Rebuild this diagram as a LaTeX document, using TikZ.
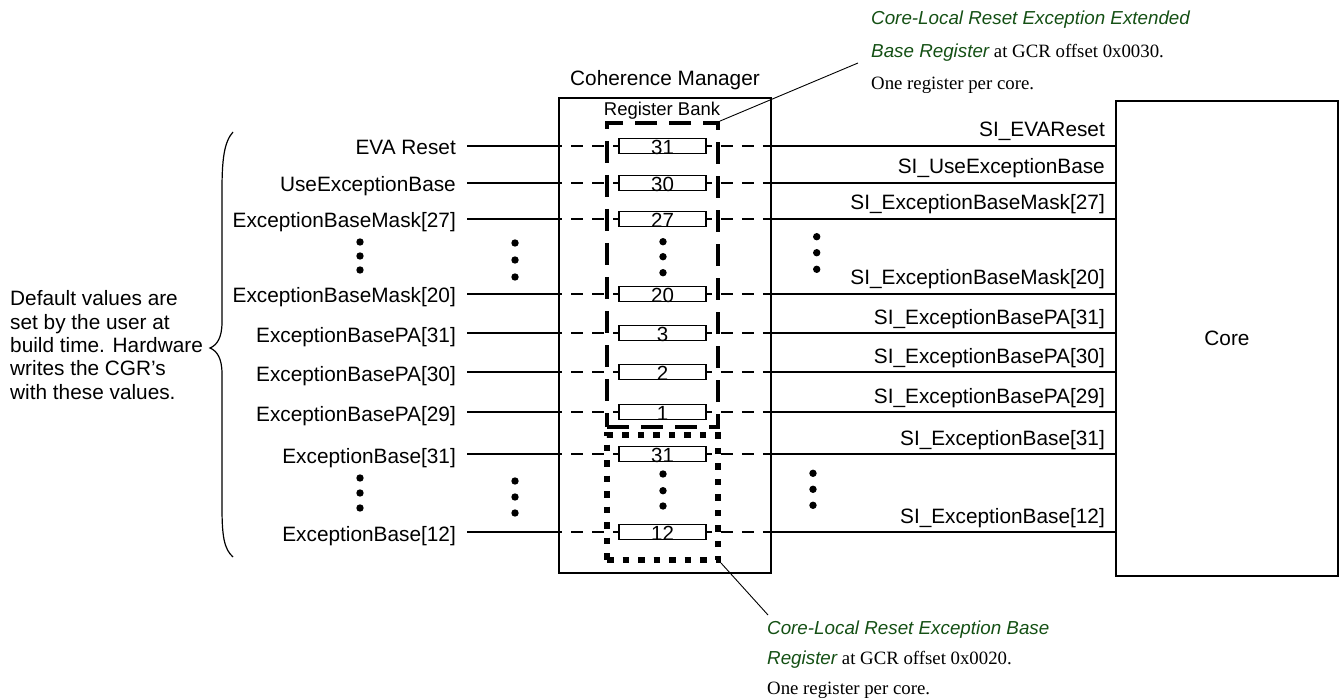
\documentclass[tikz,border=0pt]{standalone}
\usepackage{fontspec}
\setmainfont{Liberation Serif}
\setsansfont{Liberation Sans}
\definecolor{anngreen}{RGB}{20,80,20}
\begin{document}
\begin{tikzpicture}[x=1pt,y=-1pt,
  lab/.style={font=\sffamily\fontsize{20.8}{23.4}\selectfont, inner sep=0pt},
  reg/.style={draw, line width=1.8pt, minimum width=87pt, minimum height=15pt, inner sep=0pt},
  regnum/.style={font=\sffamily\fontsize{20.5}{20.5}\selectfont, inner sep=0pt},
  bigbox/.style={draw, line width=1.8pt, inner sep=0pt},
  sig/.style={line width=1.9pt},
  sigdl/.style={line width=1.9pt, dash pattern=on 12pt off 9pt, dash phase=8pt},
  sigdr/.style={line width=1.9pt, dash pattern=on 12pt off 9pt, dash phase=7pt},
  ann/.style={font=\fontsize{18.8}{20}\selectfont, inner sep=0pt, anchor=base west},
  dot/.style={fill=black}
]
\useasboundingbox (0,0) rectangle (1340,700);

% main boxes
\node[bigbox, minimum width=212pt, minimum height=475pt] (cm) at (665,335.5) {};
\node[lab] (cmlab) at (665,80) {Coherence Manager};
\node[bigbox, minimum width=222pt, minimum height=475pt, font=\sffamily\fontsize{20.8}{24}\selectfont] (core) at (1227,338.5) {Core};

% register bank boxes
\node[draw, line width=3.8pt, dash pattern=on 22pt off 12pt, minimum width=111pt, minimum height=304pt, inner sep=0pt] (bank) at (662.5,275) {};
\node[font=\sffamily\fontsize{18.5}{20}\selectfont, inner sep=0pt] (banklab) at (662,111) {Register Bank};
\node[draw, line width=6pt, dash pattern=on 6.5pt off 9pt, minimum width=111pt, minimum height=125pt, inner sep=0pt] (ebox) at (662.5,497.5) {};

% rows
\foreach \i/\y/\n/\l/\r in {
  1/146/31/EVA Reset/SI\_EVAReset,
  2/183/30/UseExceptionBase/SI\_UseExceptionBase,
  3/219/27/ExceptionBaseMask[27]/SI\_ExceptionBaseMask[27],
  4/294/20/ExceptionBaseMask[20]/SI\_ExceptionBaseMask[20],
  5/333/3/ExceptionBasePA[31]/SI\_ExceptionBasePA[31],
  6/372/2/ExceptionBasePA[30]/SI\_ExceptionBasePA[30],
  7/412/1/ExceptionBasePA[29]/SI\_ExceptionBasePA[29],
  8/454/31/ExceptionBase[31]/SI\_ExceptionBase[31],
  9/532/12/ExceptionBase[12]/SI\_ExceptionBase[12]}{
  \node[reg] (r\i) at (662.5,\y) {};
  \node[regnum] (n\i) at (662.5,\y+1.5) {\n};
  \node[lab, anchor=base east] (L\i) at (456,\y+9) {\l};
  \node[lab, anchor=base east] (R\i) at (1105,\y-9) {\r};
  \draw[sig] ([xshift=11pt]L\i.east |- r\i.west) -- (r\i.west -| cm.west);
  \draw[sigdl] (r\i.west -| cm.west) -- (r\i.west);
  \draw[sigdr] (r\i.east) -- (r\i.east -| cm.east);
  \draw[sig] (r\i.east -| cm.east) -- (r\i.east -| core.west);
}

% ellipsis dots
\foreach \x/\a/\b/\c in {360/242/256/270, 515/243/260/277, 663/241.7/256.7/272.7, 816.7/236.7/252.7/269.3,
                         360/478/493/508, 515/481/497/513, 663/474/490.7/506, 813/473.3/489.3/505.3}{
  \fill[dot] (\x,\a) circle (3.7pt);
  \fill[dot] (\x,\b) circle (3.7pt);
  \fill[dot] (\x,\c) circle (3.7pt);
}

% brace and note
\draw[line width=1.2pt] (233,132) .. controls (224,142) and (222,160) .. (222,190) -- (222,322)
   .. controls (222,338) and (217,345) .. (210,348)
   .. controls (217,351) and (222,358) .. (222,374) -- (222,507)
   .. controls (222,536) and (224,549) .. (233,557);
\node[lab, align=left, anchor=west] (note) at (10,345) {Default values are\\set by the user at\\build time. Hardware\\writes the CGR’s\\with these values.};

% annotations
\coordinate (tl) at (858,63);
\draw[line width=0.9pt] (bank.north east) -- (tl);
\node[ann] (t1) at (871,25) {\textcolor{anngreen}{\sffamily\itshape Core-Local Reset Exception Extended}};
\node[ann] (t2) at (871,58) {\textcolor{anngreen}{\sffamily\itshape Base Register} at GCR offset 0x0030.};
\node[ann] (t3) at (871,90) {One register per core.};

\coordinate (bl) at (768,615);
\draw[line width=0.9pt] (ebox.south east) -- (bl);
\node[ann] (b1) at (767,634) {\textcolor{anngreen}{\sffamily\itshape Core-Local Reset Exception Base}};
\node[ann] (b2) at (767,664) {\textcolor{anngreen}{\sffamily\itshape Register} at GCR offset 0x0020.};
\node[ann] (b3) at (767,694) {One register per core.};
\end{tikzpicture}
\end{document}
